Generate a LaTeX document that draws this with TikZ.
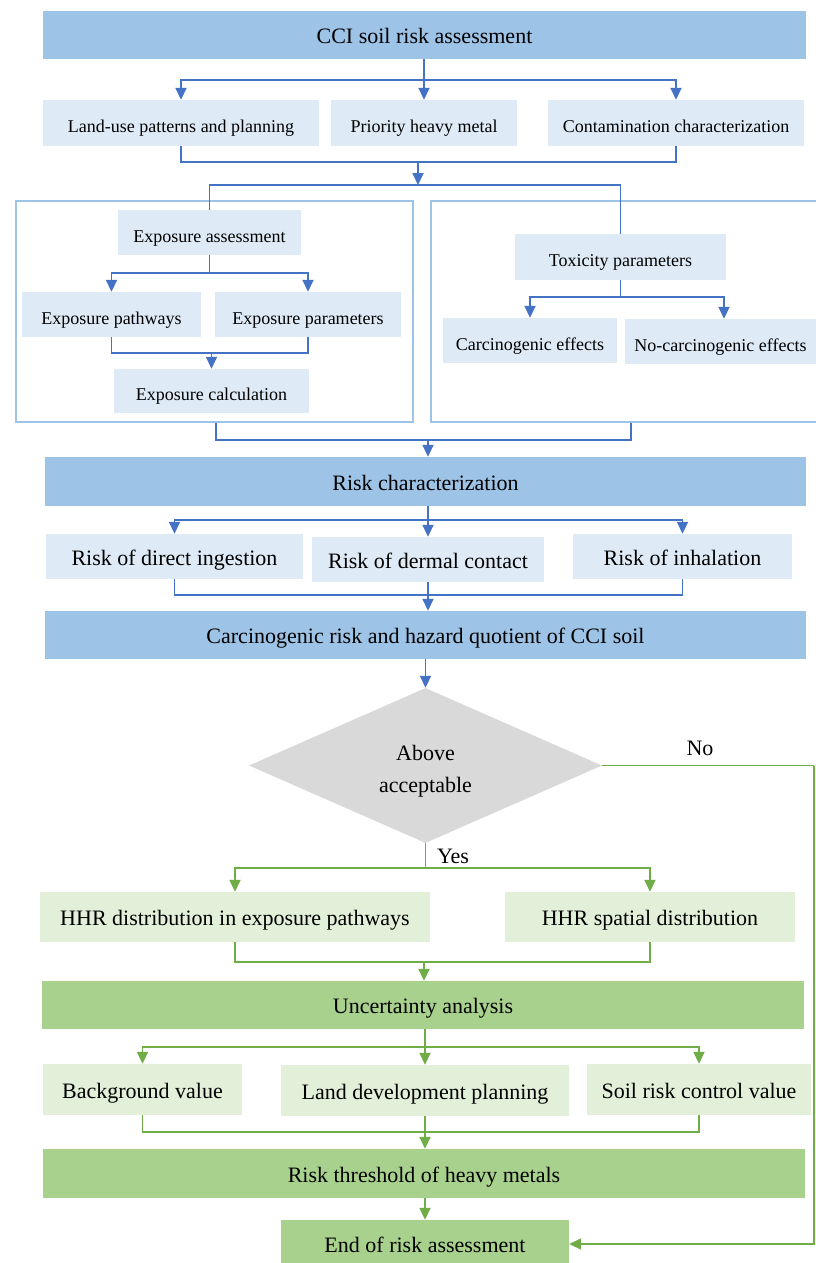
\documentclass[tikz,border=0pt]{standalone}
\usepackage{fontspec}
\setmainfont{Liberation Serif}
\usetikzlibrary{shapes.geometric,arrows.meta,calc}
\definecolor{hdrblue}{HTML}{9DC3E6}
\definecolor{subblue}{HTML}{DEEBF7}
\definecolor{lineblue}{HTML}{4472C4}
\definecolor{hdrgreen}{HTML}{A9D18E}
\definecolor{subgreen}{HTML}{E2F0D9}
\definecolor{linegreen}{HTML}{70AD47}
\definecolor{diagray}{HTML}{D9D9D9}
\tikzset{
  bx/.style={rectangle, inner sep=0pt, align=center, text=black},
  bigtxt/.style={font=\fontsize{22}{25}\selectfont},
  smalltxt/.style={font=\fontsize{18}{21}\selectfont},
  bigbox/.style={bigtxt, text height=17pt, text depth=0pt},
  smallbox/.style={smalltxt, text height=19.5pt, text depth=0pt},
  hblue/.style={bx, fill=hdrblue, bigbox},
  sblue/.style={bx, fill=subblue, smallbox},
  sbluebig/.style={bx, fill=subblue, bigbox},
  hgreen/.style={bx, fill=hdrgreen, bigbox},
  sgreen/.style={bx, fill=subgreen, bigbox},
  frame/.style={rectangle, draw=hdrblue, line width=2pt, inner sep=0pt},
  bline/.style={draw=lineblue, line width=1.8pt},
  barrow/.style={bline, -{Triangle[width=11pt,length=12pt]}},
  gline/.style={draw=linegreen, line width=1.8pt},
  garrow/.style={gline, -{Triangle[width=11pt,length=12pt]}},
  lbl/.style={bigtxt, inner sep=0pt},
}
\begin{document}
\begin{tikzpicture}[x=1pt,y=-1pt]
\useasboundingbox (0,0) rectangle (816,1263);
\fill[white] (0,0) rectangle (816,1263);

% containers
\node[frame, minimum width=397pt, minimum height=221pt] (lc) at (214.5,311.5) {};
\node[frame, minimum width=387pt, minimum height=221pt] (rc) at (624.5,311.5) {};

% blue part
\node[hblue, minimum width=763pt, minimum height=48pt] (top) at (424.5,35) {CCI soil risk assessment};
\node[sblue, minimum width=276pt, minimum height=46pt] (land) at (181,123) {Land-use patterns and planning};
\node[sblue, minimum width=186pt, minimum height=46pt] (prio) at (424,123) {Priority heavy metal};
\node[sblue, minimum width=256pt, minimum height=46pt] (cont) at (676,123) {Contamination characterization};

\node[sblue, minimum width=183pt, minimum height=45pt] (ea) at (209.5,232.5) {Exposure assessment};
\node[sblue, minimum width=179pt, minimum height=45pt] (epw) at (111.5,314.5) {Exposure pathways};
\node[sblue, minimum width=186pt, minimum height=45pt] (epa) at (308,314.5) {Exposure parameters};
\node[sblue, minimum width=195pt, minimum height=44pt] (ec) at (211.5,391) {Exposure calculation};

\node[sblue, minimum width=211pt, minimum height=46pt] (tp) at (620.5,257) {Toxicity parameters};
\node[sblue, minimum width=174pt, minimum height=45pt] (ce) at (530,340.5) {Carcinogenic effects};
\node[sblue, minimum width=191pt, minimum height=45pt] (nce) at (720.5,341.5) {No-carcinogenic effects};

\node[hblue, minimum width=761pt, minimum height=49pt] (rch) at (425.5,481.5) {Risk characterization};
\node[sbluebig, minimum width=257pt, minimum height=45pt] (rdi) at (174.5,556.5) {Risk of direct ingestion};
\node[sbluebig, minimum width=232pt, minimum height=45pt] (rdc) at (428,559.5) {Risk of dermal contact};
\node[sbluebig, minimum width=219pt, minimum height=45pt] (ri) at (682.5,556.5) {Risk of inhalation};
\node[hblue, minimum width=761pt, minimum height=48pt] (cr) at (425.5,635) {Carcinogenic risk and hazard quotient of CCI soil};

% decision
\node[diamond, fill=diagray, minimum width=353pt, minimum height=155pt, inner sep=0pt, aspect=2.28, bigtxt, align=center] (dia) at (425.5,765.5) {\rule{0pt}{27pt}Above\\[7pt]acceptable};
\node[lbl] (nolab) at (700,748) {No};
\node[lbl] (yeslab) at (453,856) {Yes};

% green part
\node[sgreen, minimum width=390pt, minimum height=50pt] (hhr1) at (235,917) {HHR distribution in exposure pathways};
\node[sgreen, minimum width=290pt, minimum height=50pt] (hhr2) at (650,917) {HHR spatial distribution};
\node[hgreen, minimum width=762pt, minimum height=48pt] (ua) at (423,1005) {Uncertainty analysis};
\node[sgreen, minimum width=199pt, minimum height=51pt] (bv) at (142.5,1089.5) {Background value};
\node[sgreen, minimum width=288pt, minimum height=51pt] (ldp) at (425,1090.5) {Land development planning};
\node[sgreen, minimum width=224pt, minimum height=51pt] (src) at (699,1089.5) {Soil risk control value};
\node[hgreen, minimum width=762pt, minimum height=49pt] (rt) at (424,1173.5) {Risk threshold of heavy metals};
\node[hgreen, minimum width=288pt, minimum height=48pt] (endb) at (425,1244) {End of risk assessment};

% ---- blue connectors
\coordinate (s1) at (424,80);
\draw[bline] (top.south -| s1) -- (s1);
\draw[barrow] (s1) -- (prio.north);
\draw[barrow] (s1) -| (land.north);
\draw[barrow] (s1) -| (cont.north);

\coordinate (j1) at (418,162);
\coordinate (s2) at (418,185);
\draw[bline] (land.south) |- (j1) -| (cont.south);
\draw[barrow] (j1) -- (s2);
\draw[bline] (ea.north) |- (s2);
\draw[bline] (tp.north) |- (s2);

\coordinate (s3) at (209.5,273);
\draw[bline] (ea.south) -- (s3);
\draw[barrow] (s3) -| (epw.north);
\draw[barrow] (s3) -| (epa.north);
\coordinate (j3) at (211.5,353);
\draw[bline] (epw.south) |- (j3) -| (epa.south);
\draw[barrow] (j3) -- (ec.north);

\coordinate (s4) at (620.5,297);
\draw[bline] (tp.south) -- (s4);
\draw[barrow] (s4) -| (ce.north);
\draw[barrow] (s4) -| ($(nce.north)+(3.5,0)$);

\coordinate (j5) at (428,440);
\draw[bline] ($(lc.south)+(1.5,0)$) |- (j5);
\draw[bline] ($(rc.south)+(6.5,0)$) |- (j5);
\draw[barrow] (j5) -- (j5 |- rch.north);

\coordinate (s6) at (428,520);
\draw[bline] (rch.south -| s6) -- (s6);
\draw[barrow] (s6) -| (rdi.north);
\draw[barrow] (s6) -- (rdc.north);
\draw[barrow] (s6) -| (ri.north);

\coordinate (j7) at (428,595);
\draw[bline] (rdi.south) |- (j7) -| (ri.south);
\draw[bline] (rdc.south) -- (j7);
\draw[barrow] (j7) -- (j7 |- cr.north);

\draw[barrow] (cr.south -| dia.north) -- (dia.north);

% ---- green connectors
\coordinate (s8) at (425.5,868);
\draw[gline] (dia.south) -- (s8);
\draw[garrow] (s8) -| (hhr1.north);
\draw[garrow] (s8) -| (hhr2.north);

\coordinate (j9) at (424,962);
\draw[gline] (hhr1.south) |- (j9) -| (hhr2.south);
\draw[garrow] (j9) -- (j9 |- ua.north);

\coordinate (s10) at (425,1047);
\draw[gline] (ua.south -| s10) -- (s10);
\draw[garrow] (s10) -| (bv.north);
\draw[garrow] (s10) -- (ldp.north);
\draw[garrow] (s10) -| (src.north);

\coordinate (j11) at (425,1132);
\draw[gline] (bv.south) |- (j11) -| (src.south);
\draw[gline] (ldp.south) -- (j11);
\draw[garrow] (j11) -- (j11 |- rt.north);

\draw[garrow] (rt.south -| endb.north) -- (endb.north);

\coordinate (nc) at (814,765.5);
\draw[gline] (dia.east) -- (nc);
\draw[garrow] (nc) |- (endb.east);
\end{tikzpicture}
\end{document}
